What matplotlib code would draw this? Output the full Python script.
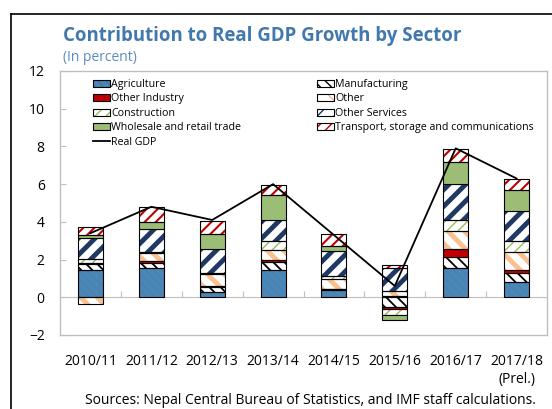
import matplotlib.pyplot as plt
import numpy as np
from matplotlib.patches import Patch
from matplotlib.lines import Line2D

plt.rcParams['font.family'] = ['Open Sans', 'DejaVu Sans']

# Contributions to real GDP growth, percentage points
years = ['2010/11', '2011/12', '2012/13', '2013/14', '2014/15', '2015/16', '2016/17', '2017/18\n(Prel.)']
agriculture = [1.45, 1.54, 0.30, 1.43, 0.37, 0.05, 1.54, 0.80]
manufacturing = [0.30, 0.27, 0.27, 0.44, 0.05, -0.50, 0.58, 0.50]
other_industry = [0.07, 0.14, 0.03, 0.12, 0.02, -0.10, 0.44, 0.16]
other = [-0.35, 0.40, 0.62, 0.50, 0.55, 0.30, 0.94, 0.94]
construction = [0.20, 0.05, 0.08, 0.48, 0.12, -0.33, 0.62, 0.57]
other_services = [1.10, 1.24, 1.24, 1.15, 1.33, 1.20, 1.89, 1.61]
wholesale = [0.20, 0.35, 0.83, 1.33, 0.30, -0.27, 1.18, 1.13]
transport = [0.43, 0.78, 0.67, 0.53, 0.62, 0.18, 0.67, 0.55]
real_gdp = [3.4, 4.8, 4.1, 6.0, 3.3, 0.6, 7.9, 6.3]

# label, values, face colour, hatch, hatch colour, hatch width
sectors = [
    ('Agriculture', agriculture, '#4a86b6', '\\\\\\\\', '#4079a8', 0.3),
    ('Manufacturing', manufacturing, 'white', '\\\\\\', 'black', 1.3),
    ('Other Industry', other_industry, '#c00000', None, None, 1.0),
    ('Other', other, 'white', '\\\\', '#fac090', 3.5),
    ('Construction', construction, 'white', '///', '#9bbb59', 1.0),
    ('Other Services', other_services, 'white', '//', '#1f3864', 3.5),
    ('Wholesale and retail trade', wholesale, '#9bbd76', None, None, 1.0),
    ('Transport, storage and communications', transport, 'white', '///', '#c00000', 1.5),
]

blue_title = '#4178ae'
grey = '#bfbfbf'

fig = plt.figure(figsize=(5.52, 4.09), dpi=100)
ax = fig.add_axes([60 / 552, 1 - 335 / 409, 487 / 552, 264 / 409])

x = np.arange(len(years))
width = 0.41
pos = np.zeros(len(years))
neg = np.zeros(len(years))
handles = {}

for label, vals, fc, hatch, hc, hlw in sectors:
    v = np.array(vals)
    bottom = np.where(v >= 0, pos, neg)
    if hatch:
        fill = ax.bar(x, v, width, bottom=bottom, color=fc, hatch=hatch,
                      edgecolor=hc, linewidth=0, zorder=2)
        for p in fill:
            p.set_hatch_linewidth(hlw)
        ax.bar(x, v, width, bottom=bottom, fill=False, edgecolor='black',
               linewidth=0.8, zorder=3)
        h_fill = Patch(facecolor=fc, hatch=hatch, edgecolor=hc, linewidth=0)
        h_fill.set_hatch_linewidth(hlw)
        handles[label] = (h_fill, Patch(fill=False, edgecolor='black', linewidth=0.8))
    else:
        ax.bar(x, v, width, bottom=bottom, color=fc, edgecolor='black',
               linewidth=0.8, zorder=3)
        handles[label] = Patch(facecolor=fc, edgecolor='black', linewidth=0.8)
    pos += np.clip(v, 0, None)
    neg += np.clip(v, None, 0)

ax.plot(x, real_gdp, color='black', linewidth=1.3, zorder=4)
handles['Real GDP'] = Line2D([], [], color='black', linewidth=1.3)

ax.set_xlim(-0.5, len(years) - 0.5)
ax.set_ylim(-2, 12)
ax.set_yticks(np.arange(-2, 13, 2))
ax.set_xticks(x)
ax.set_xticklabels(years, fontsize=10)
ax.tick_params(axis='x', length=0, pad=14)
ax.tick_params(axis='y', direction='in', length=4, color=grey, labelsize=10, pad=11)
for s in ax.spines.values():
    s.set_color(grey)
    s.set_linewidth(1.0)

# zero line with small ticks between the categories
zero = ax.secondary_xaxis(2 / 14)
zero.set_xticks(np.arange(0.5, len(years) - 1, 1))
zero.tick_params(direction='in', length=4, color=grey, labelbottom=False, labeltop=False)
for s in zero.spines.values():
    s.set_color(grey)

# two legend columns
col1 = ['Agriculture', 'Other Industry', 'Construction', 'Wholesale and retail trade', 'Real GDP']
col2 = ['Manufacturing', 'Other', 'Other Services', 'Transport, storage and communications']
leg_kw = dict(frameon=False, fontsize=7.7, handlelength=1.55, handleheight=0.65,
              handletextpad=0.15, labelspacing=0.32, borderpad=0, borderaxespad=0,
              loc='upper left')
leg1 = ax.legend([handles[k] for k in col1], col1,
                 bbox_to_anchor=(93 / 552, 1 - 79 / 409), bbox_transform=fig.transFigure, **leg_kw)
ax.add_artist(leg1)
ax.legend([handles[k] for k in col2], col2,
          bbox_to_anchor=(317 / 552, 1 - 79 / 409), bbox_transform=fig.transFigure, **leg_kw)

fig.text(63 / 552, 1 - 40.5 / 409, 'Contribution to Real GDP Growth by Sector',
         fontsize=13.4, fontweight='bold', color=blue_title, va='baseline')
fig.text(63 / 552, 1 - 61 / 409, '(In percent)', fontsize=10, color='#5b8cc0', va='baseline')
fig.text(310 / 552, 1 - 401 / 409,
         'Sources: Nepal Central Bureau of Statistics, and IMF staff calculations.',
         fontsize=10, ha='center', va='center')

# outer frame of the panel
fig.add_artist(Line2D([11 / 552, 11 / 552], [0, 1 - 14 / 409], color='black', linewidth=1.2))
fig.add_artist(Line2D([11 / 552, 1], [1 - 14 / 409, 1 - 14 / 409], color='black', linewidth=1.2))

fig.savefig('out.png', dpi=100)
